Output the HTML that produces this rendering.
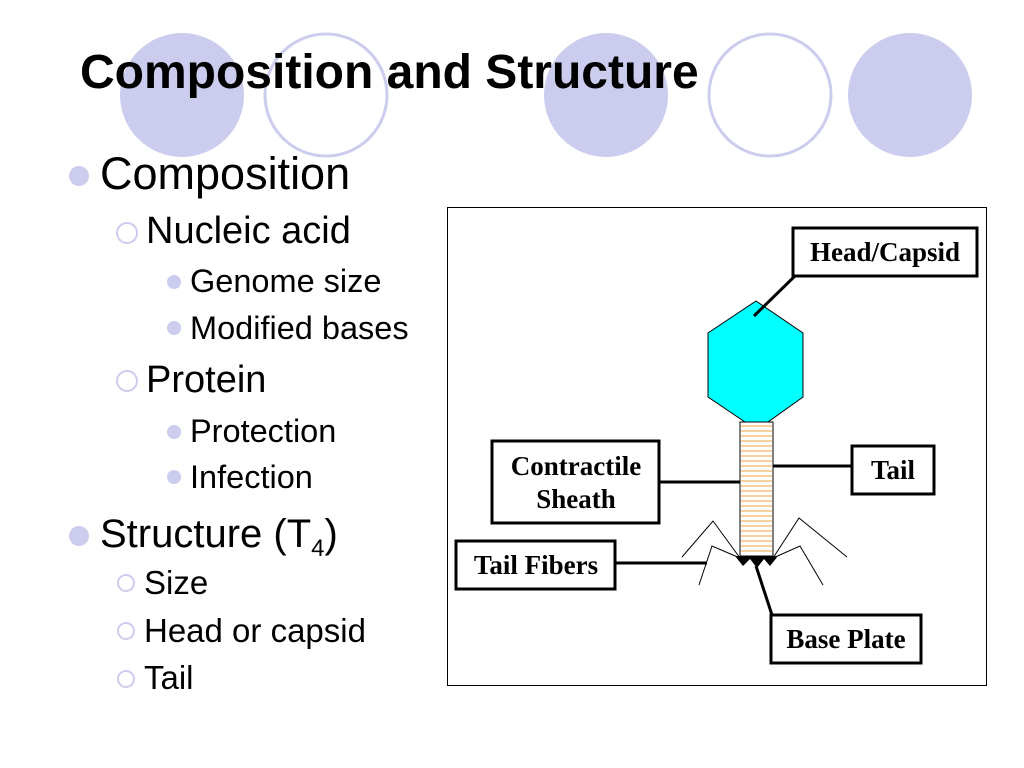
<!DOCTYPE html>
<html><head><meta charset="utf-8"><style>
body{margin:0;width:1024px;height:768px;background:#fff;overflow:hidden;position:relative;font-family:"Liberation Sans",sans-serif}
.t{position:absolute;white-space:nowrap;color:#000;line-height:1.15}
</style></head><body>
<svg width="1024" height="768" style="position:absolute;left:0;top:0">
<circle cx="182" cy="95" r="62" fill="#ccccee"/>
<circle cx="326" cy="95" r="61" fill="#fff" stroke="#ccccee" stroke-width="3"/>
<circle cx="606" cy="95" r="62" fill="#ccccee"/>
<circle cx="770" cy="95" r="61" fill="#fff" stroke="#ccccee" stroke-width="3"/>
<circle cx="910" cy="95" r="62" fill="#ccccee"/>
<circle cx="79" cy="176" r="10" fill="#ccccee"/>
<circle cx="127" cy="233" r="10" fill="none" stroke="#ccccee" stroke-width="2"/>
<circle cx="174" cy="282" r="7" fill="#ccccee"/>
<circle cx="174" cy="328" r="7" fill="#ccccee"/>
<circle cx="127" cy="381" r="10" fill="none" stroke="#ccccee" stroke-width="2"/>
<circle cx="174" cy="432" r="7" fill="#ccccee"/>
<circle cx="174" cy="477" r="7" fill="#ccccee"/>
<circle cx="79" cy="536" r="10" fill="#ccccee"/>
<circle cx="126" cy="583" r="8" fill="none" stroke="#ccccee" stroke-width="2"/>
<circle cx="126" cy="631" r="8" fill="none" stroke="#ccccee" stroke-width="2"/>
<circle cx="126" cy="679" r="8" fill="none" stroke="#ccccee" stroke-width="2"/>
<rect x="447.5" y="207.5" width="539" height="478" fill="none" stroke="#000" stroke-width="1"/>
<polygon points="756,301 803,333 803,397 768,422 745,422 708,397 708,333" fill="#00ffff" stroke="#000" stroke-width="1"/>
<rect x="740" y="422" width="33" height="134" fill="#fff" stroke="#000"/>
<g stroke="#f0a040" stroke-width="1">
<path d="M741 426H772M741 431H772M741 436H772M741 441H772M741 446H772M741 451H772M741 456H772M741 461H772M741 466H772M741 471H772M741 476H772M741 481H772M741 486H772M741 491H772M741 496H772M741 501H772M741 506H772M741 511H772M741 516H772M741 521H772M741 526H772M741 531H772M741 536H772M741 541H772M741 546H772M741 551H772"/>
</g>
<g fill="none" stroke="#000" stroke-width="1">
<polyline points="682,557 713,521 740,558"/><polyline points="699,585 712,546 740,558"/>
<polyline points="773,558 799,518 847,557"/><polyline points="773,558 800,546 823,585"/>
</g>
<polygon points="735,556 778,556 770,566 764,559 757,568 750,559 743,566" fill="#000"/>
<g stroke="#000" stroke-width="3">
<line x1="754" y1="316" x2="796" y2="275"/>
<line x1="659" y1="482" x2="740" y2="482"/>
<line x1="773" y1="466" x2="852" y2="466"/>
<line x1="615" y1="563" x2="707" y2="563"/>
<line x1="756" y1="566" x2="772" y2="615"/>
</g>
<g fill="#fff" stroke="#000" stroke-width="3">
<rect x="793" y="228" width="184" height="48"/>
<rect x="492" y="441" width="167" height="82"/>
<rect x="852" y="446" width="82" height="48"/>
<rect x="456" y="541" width="159" height="48"/>
<rect x="771" y="615" width="150" height="48"/>
</g>
<g font-family="Liberation Serif,serif" font-weight="bold" font-size="27" text-anchor="middle">
<text x="885" y="261">Head/Capsid</text>
<text x="576" y="475">Contractile</text>
<text x="576" y="508">Sheath</text>
<text x="893" y="479">Tail</text>
<text x="536" y="574">Tail Fibers</text>
<text x="846" y="648">Base Plate</text>
</g>
</svg>
<div class="t" style="left:80px;top:45px;font-size:48px;font-weight:bold">Composition and Structure</div>
<div class="t" style="left:100px;top:148px;font-size:45px">Composition</div>
<div class="t" style="left:146px;top:210px;font-size:38px">Nucleic acid</div>
<div class="t" style="left:190px;top:263px;font-size:32.5px">Genome size</div>
<div class="t" style="left:190px;top:310px;font-size:32.5px">Modified bases</div>
<div class="t" style="left:146px;top:359px;font-size:38px">Protein</div>
<div class="t" style="left:190px;top:413px;font-size:32.5px">Protection</div>
<div class="t" style="left:190px;top:459px;font-size:32.5px">Infection</div>
<div class="t" style="left:100px;top:511px;font-size:40px">Structure (T<sub style="font-size:24px">4</sub>)</div>
<div class="t" style="left:144px;top:564px;font-size:33px">Size</div>
<div class="t" style="left:144px;top:612px;font-size:33px">Head or capsid</div>
<div class="t" style="left:144px;top:659px;font-size:33px">Tail</div>
</body></html>
